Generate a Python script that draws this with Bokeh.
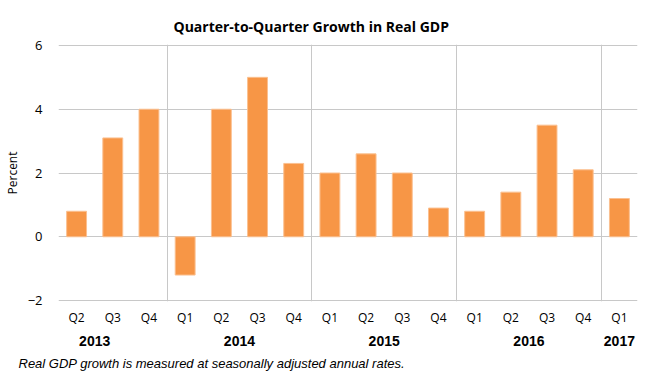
from bokeh.plotting import figure
from bokeh.models import Range1d, LinearAxis, FixedTicker, Title
from bokeh.embed import file_html
from bokeh.resources import INLINE

# ---- data ----
quarters = ["Q2", "Q3", "Q4", "Q1", "Q2", "Q3", "Q4", "Q1", "Q2", "Q3", "Q4",
            "Q1", "Q2", "Q3", "Q4", "Q1"]
bar_years = ["2013", "2013", "2013", "2014", "2014", "2014", "2014",
             "2015", "2015", "2015", "2015", "2016", "2016", "2016", "2016", "2017"]
growth = [0.8, 3.1, 4.0, -1.2, 4.0, 5.0, 2.3, 2.0, 2.6, 2.0, 0.9,
          0.8, 1.4, 3.5, 2.1, 1.2]
y_ticks = [-2, 0, 2, 4, 6]
year_labels = ["2013", "2014", "2015", "2016", "2017"]
title_text = "Quarter-to-Quarter Growth in Real GDP"
note_text = "Real GDP growth is measured at seasonally adjusted annual rates."

# ---- derived positions ----
x = list(range(len(growth)))
year_pos = []
separators = []
for yr in year_labels:
    idx = [i for i, b in enumerate(bar_years) if b == yr]
    q_first = int(quarters[idx[0]][1])
    q1_pos = idx[0] - (q_first - 1)
    year_pos.append((q1_pos + idx[-1]) / 2)
    if idx[-1] < len(growth) - 1:
        separators.append(idx[-1] + 0.5)

p = figure(width=665, height=389, output_backend="svg", toolbar_location=None,
           x_range=Range1d(-0.5, len(growth) - 0.5),
           y_range=Range1d(y_ticks[0] - 0.03, y_ticks[-1] + 0.03),
           min_border_left=55, min_border_right=28, min_border_top=44,
           min_border_bottom=88)
p.outline_line_color = None
p.background_fill_color = "white"
p.border_fill_color = "white"

p.vbar(x=x, top=growth, width=0.55, fill_color="#F79646", line_color="#FBC090",
       line_width=1)

# grids
p.ygrid.ticker = FixedTicker(ticks=y_ticks)
p.ygrid.grid_line_color = "#C8C8C8"
p.xgrid.ticker = FixedTicker(ticks=separators)
p.xgrid.grid_line_color = "#C8C8C8"

# y axis
ya = p.yaxis[0]
ya.ticker = FixedTicker(ticks=y_ticks)
ya.axis_line_color = None
ya.major_tick_line_color = None
ya.minor_tick_line_color = None
ya.major_tick_out = 0
ya.major_label_standoff = 16
ya.major_label_text_font = "Open Sans"
ya.major_label_text_font_size = "13px"
ya.major_label_text_color = "black"
ya.axis_label = "Percent"
ya.axis_label_text_font = "Open Sans"
ya.axis_label_text_font_style = "normal"
ya.axis_label_text_font_size = "12px"
ya.axis_label_text_color = "black"
ya.axis_label_standoff = 4

# x axis (quarters)
xa = p.xaxis[0]
xa.ticker = FixedTicker(ticks=x)
xa.major_label_overrides = {i: q for i, q in enumerate(quarters)}
xa.axis_line_color = None
xa.major_tick_line_color = None
xa.minor_tick_line_color = None
xa.major_tick_out = 0
xa.major_label_standoff = 7
xa.major_label_text_font = "Open Sans"
xa.major_label_text_font_size = "12px"
xa.major_label_text_color = "black"

# year axis
ax2 = LinearAxis(ticker=FixedTicker(ticks=year_pos),
                 major_label_overrides={p_: y for p_, y in zip(year_pos, year_labels)})
ax2.axis_line_color = None
ax2.major_tick_line_color = None
ax2.minor_tick_line_color = None
ax2.major_tick_out = 0
ax2.major_label_standoff = 7
ax2.major_label_text_font = "Liberation Sans"
ax2.major_label_text_font_style = "bold"
ax2.major_label_text_font_size = "14px"
ax2.major_label_text_color = "black"
p.add_layout(ax2, "below")

# title
p.title.text = title_text
p.title.align = "left"
p.title.offset = 115
p.title.standoff = 18
p.title.text_font = "Open Sans"
p.title.text_font_size = "14px"
p.title.text_font_style = "bold"
p.title.text_color = "black"

# footnote
note = Title(text=note_text, align="left", offset=-40, text_font="Liberation Sans",
             text_font_style="italic", text_font_size="13px", text_color="black")
p.add_layout(note, "below")

open("out.html", "w").write(file_html(p, INLINE))
